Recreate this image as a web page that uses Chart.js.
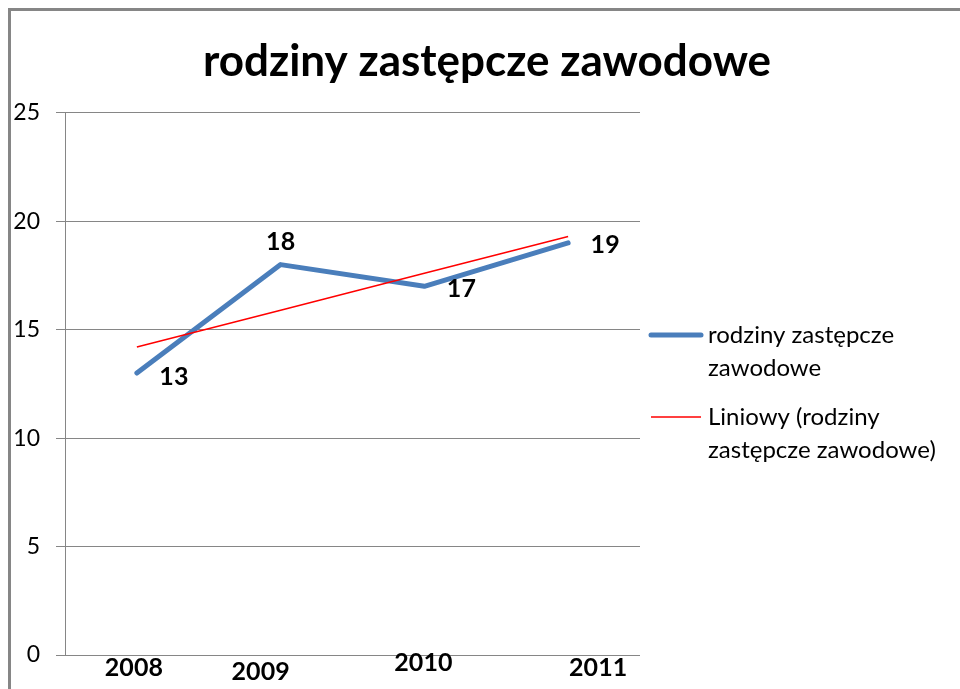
<!DOCTYPE html>
<html>
<head>
<meta charset="utf-8">
<script src="https://cdn.jsdelivr.net/npm/chart.js@4/dist/chart.umd.min.js"></script>
<style>
html, body { margin: 0; padding: 0; background: #fff; }
#wrap { width: 960px; height: 689px; }
</style>
</head>
<body>
<div id="wrap"><canvas id="c" width="960" height="689"></canvas></div>
<script>
var years = ["2008", "2009", "2010", "2011"];
var values = [13, 18, 17, 19];
var trendValues = [14.2, 15.9, 17.6, 19.3];
var seriesName = "rodziny zastępcze zawodowe";
var trendName = "Liniowy (rodziny zastępcze zawodowe)";
var FONT = "Lato, 'Open Sans', sans-serif";

// legend text split the way the original wraps it
var legendLines = [["rodziny zastępcze", "zawodowe"], ["Liniowy (rodziny", "zastępcze zawodowe)"]];
// nudges for value labels and x labels, in px
var valueShift = [[37, 4], [0, -23], [37, 3], [37, 2]];
var yearShift = [[-3, 13], [-20, 17], [-1, 8], [30, 13]];

var framePlugin = {
	id: "frame",
	beforeDraw: function(chart) {
		var ctx = chart.ctx;
		ctx.save();
		ctx.fillStyle = "#fff";
		ctx.fillRect(0, 0, chart.width, chart.height);
		ctx.strokeStyle = "#868686";
		ctx.lineWidth = 3;
		ctx.strokeRect(9.5, 9.5, 2000, 2000);
		ctx.restore();
	}
};

var labelsPlugin = {
	id: "labels",
	afterDatasetsDraw: function(chart) {
		var ctx = chart.ctx;
		var meta = chart.getDatasetMeta(0);
		ctx.save();
		ctx.fillStyle = "#000";
		ctx.textAlign = "center";
		ctx.textBaseline = "middle";
		ctx.font = "bold 25px " + FONT;
		meta.data.forEach(function(p, i) {
			ctx.fillText(String(values[i]), p.x + valueShift[i][0], p.y + valueShift[i][1]);
		});
		// x labels
		var xs = chart.scales.x;
		var bottom = chart.chartArea.bottom;
		years.forEach(function(y, i) {
			var x = xs.getPixelForValue(i);
			ctx.fillText(y, x + yearShift[i][0], bottom + yearShift[i][1]);
		});
		// legend
		ctx.textAlign = "left";
		ctx.font = "24px " + FONT;
		var ds = chart.data.datasets;
		var tops = [335, 417];
		ds.forEach(function(d, i) {
			ctx.strokeStyle = d.borderColor;
			ctx.lineWidth = d.borderWidth;
			ctx.lineCap = i == 0 ? "round" : "butt";
			ctx.beginPath();
			ctx.moveTo(651, tops[i]);
			ctx.lineTo(701, tops[i]);
			ctx.stroke();
			legendLines[i].forEach(function(t, k) {
				ctx.fillText(t, 708, tops[i] + k * 33);
			});
		});
		ctx.restore();
	}
};

new Chart(document.getElementById("c"), {
	type: "line",
	data: {
		labels: years,
		datasets: [{
			label: seriesName,
			data: values,
			borderColor: "#4A7EBB",
			borderWidth: 5,
			borderCapStyle: "round",
			borderJoinStyle: "round",
			pointRadius: 0,
			tension: 0,
			order: 1
		}, {
			label: trendName,
			data: trendValues,
			borderColor: "#FF0000",
			borderWidth: 1.5,
			pointRadius: 0,
			tension: 0,
			order: 0
		}]
	},
	options: {
		responsive: false,
		animation: false,
		layout: { padding: { left: 14, top: 0, right: 0, bottom: 0 } },
		plugins: {
			legend: { display: false },
			tooltip: { enabled: false },
			title: {
				display: true,
				text: seriesName,
				color: "#000",
				font: { family: FONT, size: 44, weight: "bold" },
				padding: { top: 35, bottom: 25 }
			}
		},
		scales: {
			x: {
				offset: true,
				grid: { display: false },
				border: { display: false },
				ticks: { display: false },
				afterFit: function(s) { s.height = 34; }
			},
			y: {
				min: 0,
				max: 25,
				ticks: {
					stepSize: 5,
					color: "#000",
					padding: 16,
					font: { family: FONT, size: 23 }
				},
				grid: { color: "#868686", lineWidth: 1, tickLength: 9 },
				border: { color: "#868686", width: 1 },
				afterFit: function(s) { s.width = 51; }
			},
			room: {
				position: "right",
				display: true,
				grid: { display: false },
				border: { display: false },
				ticks: { display: false },
				afterFit: function(s) { s.width = 320; }
			}
		}
	},
	plugins: [framePlugin, labelsPlugin]
});
</script>
</body>
</html>
